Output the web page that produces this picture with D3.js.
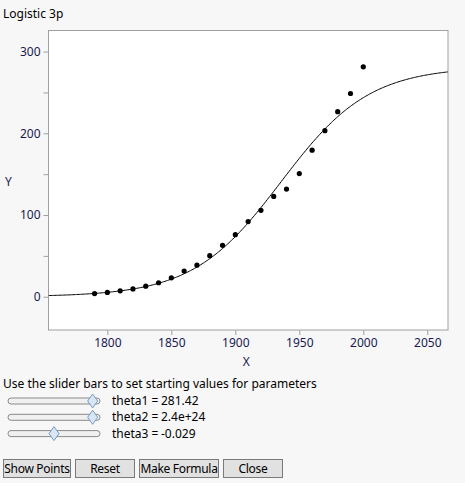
<!DOCTYPE html>
<html><head><meta charset="utf-8">
<script src="https://cdn.jsdelivr.net/npm/d3@7"></script>
<style>
body{margin:0;background:#f7f7f7;font-family:"Noto Sans",sans-serif;}
.btn{position:absolute;top:459px;height:19px;border:1px solid #7a7a7a;background:#e1e1e1;font:12px "Noto Sans",sans-serif;text-align:center;line-height:17px;box-sizing:border-box;white-space:nowrap;overflow:hidden;letter-spacing:-0.3px;}
</style></head><body>
<svg id="c" width="465" height="455" style="position:absolute;left:0;top:0"></svg>
<div class="btn" style="left:3px;width:68px">Show Points</div>
<div class="btn" style="left:75px;width:60px">Reset</div>
<div class="btn" style="left:139px;width:80px">Make Formula</div>
<div class="btn" style="left:223px;width:60px">Close</div>
<script>
const years=[1790,1800,1810,1820,1830,1840,1850,1860,1870,1880,1890,1900,1910,1920,1930,1940,1950,1960,1970,1980,1990,2000];
const pop=[3.9,5.3,7.2,9.6,12.9,17.1,23.2,31.4,38.6,50.2,62.9,76.0,92.0,105.7,122.8,131.7,150.7,179.3,203.2,226.5,248.7,281.4];
const params=[["theta1","281.42",0.92],["theta2","2.4e+24",0.92],["theta3","-0.029",0.5]];
const theta1=281.42,theta2=2.4e24,theta3=-0.029;
const xTicks=[1800,1850,1900,1950,2000,2050];
const yTicks=[0,50,100,150,200,250,300];
const yLabels=[0,100,200,300];

const svg=d3.select("#c");
const L=48.5,R=448,T=30.5,B=330;
const x=d3.scaleLinear().domain([1754,2066.2]).range([L,R]);
const y=d3.scaleLinear().domain([-40.7,325.8]).range([B,T]);
svg.append("text").attr("x",3).attr("y",18).attr("font-size",12).attr("fill","#000").text("Logistic 3p");
svg.append("rect").attr("x",L).attr("y",T).attr("width",R-L).attr("height",B-T).attr("fill","#fff").attr("stroke","#a0a0a0");
const ya=svg.append("g").attr("transform",`translate(${L},0)`).call(d3.axisLeft(y).tickValues(yTicks).tickSize(5).tickFormat(d=>yLabels.includes(d)?d:""));
const xa=svg.append("g").attr("transform",`translate(0,${B})`).call(d3.axisBottom(x).tickValues(xTicks).tickSize(5).tickFormat(d3.format("d")));
[ya,xa].forEach(a=>{a.select(".domain").remove();a.selectAll("line").attr("stroke","#a0a0a0");a.selectAll("text").attr("font-size",12).attr("fill","#1a1a50").attr("font-family","Noto Sans");});
svg.append("text").attr("x",(L+R)/2-2).attr("y",366).attr("text-anchor","middle").attr("font-size",12).attr("fill","#1a1a50").text("X");
svg.append("text").attr("x",5).attr("y",186).attr("font-size",12).attr("fill","#1a1a50").text("Y");
const cx=d3.range(1754,2066.3,1);
const g=svg.append("g").attr("clip-path","url(#cl)");
svg.append("clipPath").attr("id","cl").append("rect").attr("x",L).attr("y",T).attr("width",R-L).attr("height",B-T);
g.append("path").datum(cx).attr("fill","none").attr("stroke","#000").attr("stroke-width",1)
 .attr("d",d3.line().x(d=>x(d)).y(d=>y(theta1/(1+theta2*Math.exp(theta3*d)))));
g.selectAll("circle").data(years).join("circle").attr("cx",d=>x(d)).attr("cy",(d,i)=>y(pop[i])).attr("r",2.6).attr("fill","#000");
svg.append("text").attr("x",3).attr("y",388).attr("font-size",12).attr("fill","#000").text("Use the slider bars to set starting values for parameters");
params.forEach((p,i)=>{
  const yy=401+i*16.3;
  svg.append("rect").attr("x",8).attr("y",yy-3).attr("width",92).attr("height",6).attr("rx",3).attr("fill","#f0f0f0").attr("stroke","#8a8a8a");
  const hx=8+p[2]*92;
  svg.append("path").attr("d",`M${hx},${yy-7}L${hx+5},${yy}L${hx},${yy+7}L${hx-5},${yy}Z`).attr("fill","#d8e6f5").attr("stroke","#7a9cc0");
  svg.append("text").attr("x",112).attr("y",yy+4).attr("font-size",12).attr("fill","#000").text(`${p[0]} =`);
  svg.append("text").attr("x",161).attr("y",yy+4).attr("font-size",12).attr("fill","#000").text(p[1]);
});
</script></body></html>
